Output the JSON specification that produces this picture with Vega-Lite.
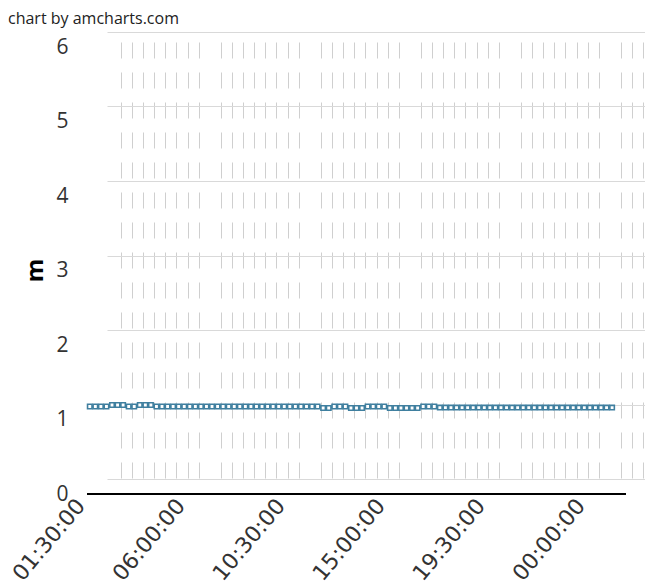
{
  "$schema": "https://vega.github.io/schema/vega-lite/v6.json",
  "width": 539,
  "height": 447,
  "autosize": {"type": "none"},
  "padding": {"left": 107, "top": 32, "right": 0, "bottom": 107},
  "background": "white",
  "title": {"text": "chart by amcharts.com", "anchor": "start", "frame": "group", "dx": -99, "dy": 16, "offset": 8, "baseline": "alphabetic", "fontSize": 16, "fontWeight": "normal", "font": "Open Sans", "color": "#222"},
  "data": {"values": [
    {"t": "2024-01-01T01:30:00", "v": 1.175}, {"t": "2024-01-01T01:45:00", "v": 1.175}, {"t": "2024-01-01T02:00:00", "v": 1.175}, {"t": "2024-01-01T02:15:00", "v": 1.175},
    {"t": "2024-01-01T02:30:00", "v": 1.195}, {"t": "2024-01-01T02:45:00", "v": 1.195}, {"t": "2024-01-01T03:00:00", "v": 1.195}, {"t": "2024-01-01T03:15:00", "v": 1.175},
    {"t": "2024-01-01T03:30:00", "v": 1.175}, {"t": "2024-01-01T03:45:00", "v": 1.195}, {"t": "2024-01-01T04:00:00", "v": 1.195}, {"t": "2024-01-01T04:15:00", "v": 1.195},
    {"t": "2024-01-01T04:30:00", "v": 1.175}, {"t": "2024-01-01T04:45:00", "v": 1.175}, {"t": "2024-01-01T05:00:00", "v": 1.175}, {"t": "2024-01-01T05:15:00", "v": 1.175},
    {"t": "2024-01-01T05:30:00", "v": 1.175}, {"t": "2024-01-01T05:45:00", "v": 1.175}, {"t": "2024-01-01T06:00:00", "v": 1.175}, {"t": "2024-01-01T06:15:00", "v": 1.175},
    {"t": "2024-01-01T06:30:00", "v": 1.175}, {"t": "2024-01-01T06:45:00", "v": 1.175}, {"t": "2024-01-01T07:00:00", "v": 1.175}, {"t": "2024-01-01T07:15:00", "v": 1.175},
    {"t": "2024-01-01T07:30:00", "v": 1.175}, {"t": "2024-01-01T07:45:00", "v": 1.175}, {"t": "2024-01-01T08:00:00", "v": 1.175}, {"t": "2024-01-01T08:15:00", "v": 1.175},
    {"t": "2024-01-01T08:30:00", "v": 1.175}, {"t": "2024-01-01T08:45:00", "v": 1.175}, {"t": "2024-01-01T09:00:00", "v": 1.175}, {"t": "2024-01-01T09:15:00", "v": 1.175},
    {"t": "2024-01-01T09:30:00", "v": 1.175}, {"t": "2024-01-01T09:45:00", "v": 1.175}, {"t": "2024-01-01T10:00:00", "v": 1.175}, {"t": "2024-01-01T10:15:00", "v": 1.175},
    {"t": "2024-01-01T10:30:00", "v": 1.175}, {"t": "2024-01-01T10:45:00", "v": 1.175}, {"t": "2024-01-01T11:00:00", "v": 1.175}, {"t": "2024-01-01T11:15:00", "v": 1.175},
    {"t": "2024-01-01T11:30:00", "v": 1.175}, {"t": "2024-01-01T11:45:00", "v": 1.175}, {"t": "2024-01-01T12:00:00", "v": 1.155}, {"t": "2024-01-01T12:15:00", "v": 1.155},
    {"t": "2024-01-01T12:30:00", "v": 1.175}, {"t": "2024-01-01T12:45:00", "v": 1.175}, {"t": "2024-01-01T13:00:00", "v": 1.175}, {"t": "2024-01-01T13:15:00", "v": 1.155},
    {"t": "2024-01-01T13:30:00", "v": 1.155}, {"t": "2024-01-01T13:45:00", "v": 1.155}, {"t": "2024-01-01T14:00:00", "v": 1.175}, {"t": "2024-01-01T14:15:00", "v": 1.175},
    {"t": "2024-01-01T14:30:00", "v": 1.175}, {"t": "2024-01-01T14:45:00", "v": 1.175}, {"t": "2024-01-01T15:00:00", "v": 1.155}, {"t": "2024-01-01T15:15:00", "v": 1.155},
    {"t": "2024-01-01T15:30:00", "v": 1.155}, {"t": "2024-01-01T15:45:00", "v": 1.155}, {"t": "2024-01-01T16:00:00", "v": 1.155}, {"t": "2024-01-01T16:15:00", "v": 1.155},
    {"t": "2024-01-01T16:30:00", "v": 1.175}, {"t": "2024-01-01T16:45:00", "v": 1.175}, {"t": "2024-01-01T17:00:00", "v": 1.175}, {"t": "2024-01-01T17:15:00", "v": 1.16},
    {"t": "2024-01-01T17:30:00", "v": 1.16}, {"t": "2024-01-01T17:45:00", "v": 1.16}, {"t": "2024-01-01T18:00:00", "v": 1.16}, {"t": "2024-01-01T18:15:00", "v": 1.16},
    {"t": "2024-01-01T18:30:00", "v": 1.16}, {"t": "2024-01-01T18:45:00", "v": 1.16}, {"t": "2024-01-01T19:00:00", "v": 1.16}, {"t": "2024-01-01T19:15:00", "v": 1.16},
    {"t": "2024-01-01T19:30:00", "v": 1.16}, {"t": "2024-01-01T19:45:00", "v": 1.16}, {"t": "2024-01-01T20:00:00", "v": 1.16}, {"t": "2024-01-01T20:15:00", "v": 1.16},
    {"t": "2024-01-01T20:30:00", "v": 1.16}, {"t": "2024-01-01T20:45:00", "v": 1.16}, {"t": "2024-01-01T21:00:00", "v": 1.16}, {"t": "2024-01-01T21:15:00", "v": 1.16},
    {"t": "2024-01-01T21:30:00", "v": 1.16}, {"t": "2024-01-01T21:45:00", "v": 1.16}, {"t": "2024-01-01T22:00:00", "v": 1.16}, {"t": "2024-01-01T22:15:00", "v": 1.16},
    {"t": "2024-01-01T22:30:00", "v": 1.16}, {"t": "2024-01-01T22:45:00", "v": 1.16}, {"t": "2024-01-01T23:00:00", "v": 1.16}, {"t": "2024-01-01T23:15:00", "v": 1.16},
    {"t": "2024-01-01T23:30:00", "v": 1.16}, {"t": "2024-01-01T23:45:00", "v": 1.16}, {"t": "2024-01-02T00:00:00", "v": 1.16}, {"t": "2024-01-02T00:15:00", "v": 1.16},
    {"t": "2024-01-02T00:30:00", "v": 1.16}, {"t": "2024-01-02T00:45:00", "v": 1.16}, {"t": "2024-01-02T01:00:00", "v": 1.16}
  ]},
  "encoding": {
    "y": {"field": "v", "type": "quantitative", "scale": {"domain": [0, 6], "nice": false, "zero": true},
      "axis": {"values": [0, 1, 2, 3, 4, 5, 6], "grid": true, "gridColor": "#d9d9d9", "ticks": false, "domain": false, "labelOffset": 15, "labelPadding": 39, "labelFont": "Open Sans", "labelFontSize": 21, "labelColor": "#333", "title": "m", "titleFont": "Open Sans", "titleFontSize": 24, "titleFontWeight": "bold", "titleColor": "#000", "titleX": -72, "titleY": 238, "titleAngle": -90, "titleAlign": "center", "titleBaseline": "middle"}}
  },
  "layer": [
    {
      "mark": {"type": "line", "color": "#3f7f9f", "strokeWidth": 1.6, "xOffset": -20, "yOffset": 15},
      "encoding": {
        "x": {"field": "t", "type": "temporal",
          "scale": {"domain": [{"year": 2024, "month": 1, "date": 1, "hours": 1, "minutes": 22, "seconds": 30}, {"year": 2024, "month": 1, "date": 2, "hours": 1, "minutes": 37, "seconds": 30}], "nice": false},
          "axis": {"orient": "bottom", "grid": true, "gridColor": "#cfcfcf", "gridDash": [16, 14], "gridDashOffset": 20, "gridWidth": 1, "labels": false, "ticks": false, "domain": false, "title": null,
            "values": [
              {"year": 2024, "month": 1, "date": 1, "hours": 2, "minutes": 0}, {"year": 2024, "month": 1, "date": 1, "hours": 2, "minutes": 30},
              {"year": 2024, "month": 1, "date": 1, "hours": 3, "minutes": 0}, {"year": 2024, "month": 1, "date": 1, "hours": 3, "minutes": 30},
              {"year": 2024, "month": 1, "date": 1, "hours": 4, "minutes": 0}, {"year": 2024, "month": 1, "date": 1, "hours": 4, "minutes": 30},
              {"year": 2024, "month": 1, "date": 1, "hours": 5, "minutes": 0}, {"year": 2024, "month": 1, "date": 1, "hours": 5, "minutes": 30},
              {"year": 2024, "month": 1, "date": 1, "hours": 6, "minutes": 30}, {"year": 2024, "month": 1, "date": 1, "hours": 7, "minutes": 0},
              {"year": 2024, "month": 1, "date": 1, "hours": 7, "minutes": 30}, {"year": 2024, "month": 1, "date": 1, "hours": 8, "minutes": 0},
              {"year": 2024, "month": 1, "date": 1, "hours": 8, "minutes": 30}, {"year": 2024, "month": 1, "date": 1, "hours": 9, "minutes": 0},
              {"year": 2024, "month": 1, "date": 1, "hours": 9, "minutes": 30}, {"year": 2024, "month": 1, "date": 1, "hours": 10, "minutes": 0},
              {"year": 2024, "month": 1, "date": 1, "hours": 11, "minutes": 0}, {"year": 2024, "month": 1, "date": 1, "hours": 11, "minutes": 30},
              {"year": 2024, "month": 1, "date": 1, "hours": 12, "minutes": 0}, {"year": 2024, "month": 1, "date": 1, "hours": 12, "minutes": 30},
              {"year": 2024, "month": 1, "date": 1, "hours": 13, "minutes": 0}, {"year": 2024, "month": 1, "date": 1, "hours": 13, "minutes": 30},
              {"year": 2024, "month": 1, "date": 1, "hours": 14, "minutes": 0}, {"year": 2024, "month": 1, "date": 1, "hours": 14, "minutes": 30},
              {"year": 2024, "month": 1, "date": 1, "hours": 15, "minutes": 30}, {"year": 2024, "month": 1, "date": 1, "hours": 16, "minutes": 0},
              {"year": 2024, "month": 1, "date": 1, "hours": 16, "minutes": 30}, {"year": 2024, "month": 1, "date": 1, "hours": 17, "minutes": 0},
              {"year": 2024, "month": 1, "date": 1, "hours": 17, "minutes": 30}, {"year": 2024, "month": 1, "date": 1, "hours": 18, "minutes": 0},
              {"year": 2024, "month": 1, "date": 1, "hours": 18, "minutes": 30}, {"year": 2024, "month": 1, "date": 1, "hours": 19, "minutes": 0},
              {"year": 2024, "month": 1, "date": 1, "hours": 20, "minutes": 0}, {"year": 2024, "month": 1, "date": 1, "hours": 20, "minutes": 30},
              {"year": 2024, "month": 1, "date": 1, "hours": 21, "minutes": 0}, {"year": 2024, "month": 1, "date": 1, "hours": 21, "minutes": 30},
              {"year": 2024, "month": 1, "date": 1, "hours": 22, "minutes": 0}, {"year": 2024, "month": 1, "date": 1, "hours": 22, "minutes": 30},
              {"year": 2024, "month": 1, "date": 1, "hours": 23, "minutes": 0}, {"year": 2024, "month": 1, "date": 1, "hours": 23, "minutes": 30},
              {"year": 2024, "month": 1, "date": 2, "hours": 0, "minutes": 30}, {"year": 2024, "month": 1, "date": 2, "hours": 1, "minutes": 0},
              {"year": 2024, "month": 1, "date": 2, "hours": 1, "minutes": 30}
            ]}}
      }
    },
    {
      "mark": {"type": "point", "shape": "square", "size": 20, "fill": "white", "stroke": "#3f7f9f", "strokeWidth": 1.6, "opacity": 1, "xOffset": -20, "yOffset": 15},
      "encoding": {
        "x": {"field": "t", "type": "temporal",
          "scale": {"domain": [{"year": 2024, "month": 1, "date": 1, "hours": 1, "minutes": 22, "seconds": 30}, {"year": 2024, "month": 1, "date": 2, "hours": 1, "minutes": 37, "seconds": 30}], "nice": false},
          "axis": {"orient": "bottom", "format": "%H:%M:%S", "labelAngle": -50, "labelFont": "DejaVu Sans", "labelFontSize": 22, "labelColor": "#333", "labelPadding": 8, "labelOffset": -9, "labelOverlap": false, "grid": false, "ticks": false, "domain": true, "domainColor": "#000", "domainWidth": 2, "translate": -20, "offset": 35, "title": null,
            "values": [
              {"year": 2024, "month": 1, "date": 1, "hours": 1, "minutes": 30}, {"year": 2024, "month": 1, "date": 1, "hours": 6, "minutes": 0},
              {"year": 2024, "month": 1, "date": 1, "hours": 10, "minutes": 30}, {"year": 2024, "month": 1, "date": 1, "hours": 15, "minutes": 0},
              {"year": 2024, "month": 1, "date": 1, "hours": 19, "minutes": 30}, {"year": 2024, "month": 1, "date": 2, "hours": 0, "minutes": 0}
            ]}}
      }
    }
  ],
  "resolve": {"axis": {"x": "independent"}},
  "config": {"view": {"stroke": null}}
}
